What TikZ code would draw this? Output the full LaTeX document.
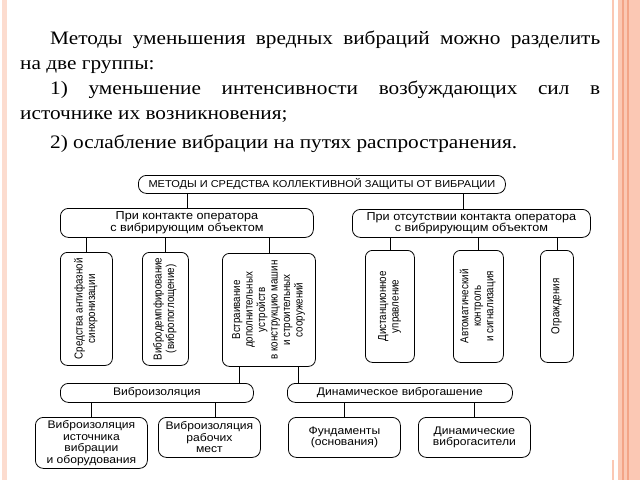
\documentclass[tikz,border=0pt]{standalone}
\usepackage{fontspec}
\usepackage{graphicx}
\setmainfont{Liberation Serif}
\newfontfamily\introfont[FakeStretch=1.12]{Liberation Serif}
\newfontfamily\diagfont[FakeStretch=1.1]{Liberation Sans}
\newfontfamily\narrowfont[FakeStretch=0.85]{Liberation Sans}
\usepackage{tikz}

\newcommand{\vtext}[1]{\rotatebox{90}{\begin{tabular}{@{}c@{}}#1\end{tabular}}}

\definecolor{stripe}{HTML}{FBC8B4}
\definecolor{stripedark}{HTML}{F3A487}
\definecolor{stripelight}{HTML}{FCDCCF}

\tikzset{
  box/.style={draw, line width=0.8pt, rounded corners=8pt, align=center, inner sep=1pt, anchor=north west, font=\diagfont\fontsize{11}{11.5}\selectfont},
  groupbox/.style={box, font=\diagfont\fontsize{11.5}{11.5}\selectfont},
  vbox/.style={box, rounded corners=7pt, font=\narrowfont\fontsize{11.5}{12.5}\selectfont},
  link/.style={line width=0.8pt}
}

\begin{document}
\begin{tikzpicture}[x=1pt,y=-1pt]

\useasboundingbox (0,0) rectangle (640,480);

% side stripes
\fill[stripelight] (2,0) rectangle (7,480);
\fill[stripe] (618,0) rectangle (640,480);
\draw[stripedark, line width=1.5pt] (623,0) -- (623,480);
\draw[stripedark, line width=1.5pt] (628,0) -- (628,480);
\draw[stripe, line width=1.2pt] (613,0) -- (613,160);
\draw[stripe, line width=1.2pt] (613,460) -- (613,480);

% text above the scheme
\node[anchor=north west, inner sep=0pt, text width=580pt, align=justify, font=\introfont\fontsize{19}{25}\selectfont] (intro) at (20,31)
{\hspace*{30pt}Методы уменьшения вредных вибраций можно разделить\linebreak на две группы:\par
\hspace*{30pt}1) уменьшение интенсивности возбуждающих сил в\linebreak источнике их возникновения;\par\vspace{4pt}
\hspace*{30pt}2) ослабление вибрации на путях распространения.};

% scheme
\node[box, minimum width=367, minimum height=18, font=\diagfont\fontsize{10}{11}\selectfont] (top) at (138,175) {МЕТОДЫ И СРЕДСТВА КОЛЛЕКТИВНОЙ ЗАЩИТЫ ОТ ВИБРАЦИИ};

\node[groupbox, minimum width=253, minimum height=29] (contact) at (60,208) {При контакте оператора\\с вибрирующим объектом};
\node[groupbox, minimum width=238, minimum height=28] (nocontact) at (352,209) {При отсутствии контакта оператора\\с вибрирующим объектом};

\node[vbox, minimum width=52, minimum height=113] (antiphase) at (60,252) {\vtext{Средства антифазной\\синхронизации}};
\node[vbox, minimum width=46, minimum height=113] (damping) at (142,252) {\vtext{Вибродемпфирование\\(вибропоглощение)}};
\node[vbox, minimum width=93, minimum height=113] (builtin) at (222,253) {\vtext{Встраивание\\дополнительных\\устройств\\в конструкцию машин\\и строительных\\сооружений}};

\node[vbox, minimum width=49, minimum height=112] (remote) at (365,250) {\vtext{Дистанционное\\управление}};
\node[vbox, minimum width=50, minimum height=112] (auto) at (453,250) {\vtext{Автоматический\\контроль\\и сигнализация}};
\node[vbox, minimum width=33, minimum height=112] (fence) at (540,250) {\vtext{Ограждения}};

\node[box, minimum width=193, minimum height=19] (isol) at (60,383) {Виброизоляция};
\node[box, minimum width=225, minimum height=19] (dynamic) at (287,383) {Динамическое виброгашение};

\node[box, minimum width=112, minimum height=51] (isolsource) at (35,417) {Виброизоляция\\источника\\вибрации\\и оборудования};
\node[box, minimum width=102, minimum height=40] (isolwork) at (158,417) {Виброизоляция\\рабочих\\мест};
\node[box, minimum width=112, minimum height=40] (base) at (288,417) {Фундаменты\\(основания)};
\node[box, minimum width=112, minimum height=40] (absorber) at (418,417) {Динамические\\виброгасители};

\coordinate (isolin) at (239,0);
\coordinate (dynin) at (298,0);

\draw[link] (top.south -| contact.north) -- (contact.north);
\draw[link] ([xshift=-8pt]nocontact.north) -- ([xshift=-8pt]nocontact.north |- top.south);

\foreach \b in {antiphase,damping,builtin}
  \draw[link] (contact.south -| \b.north) -- (\b.north);
\foreach \b in {remote,auto,fence}
  \draw[link] (nocontact.south -| \b.north) -- (\b.north);

\draw[link] (builtin.south -| isolin) -- (isol.north -| isolin);
\draw[link] (builtin.south -| dynin) -- (dynamic.north -| dynin);

\draw[link] (isol.south -| isolsource.north) -- (isolsource.north);
\draw[link] ([xshift=6pt]isolwork.north) -- ([xshift=6pt]isolwork.north |- isol.south);
\draw[link] (dynamic.south -| base.north) -- (base.north);
\draw[link] (dynamic.south -| absorber.north) -- (absorber.north);

\end{tikzpicture}
\end{document}
